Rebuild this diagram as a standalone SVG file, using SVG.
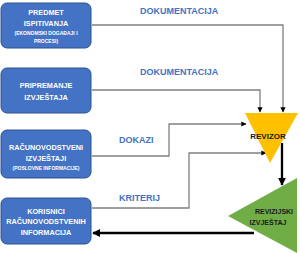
<svg xmlns="http://www.w3.org/2000/svg" width="300" height="253" viewBox="0 0 300 253">
<defs>
<style>
.box{fill:#4472C4;stroke:#2F528F;stroke-width:1}
.bt{font-family:"Liberation Sans",Arial,sans-serif;font-weight:bold;fill:#fff;text-anchor:middle;font-size:7.3px}
.bs{font-family:"Liberation Sans",Arial,sans-serif;font-weight:bold;fill:#fff;text-anchor:middle;font-size:5px}
.lbl{font-family:"Liberation Sans",Arial,sans-serif;font-weight:bold;fill:#4472C4;font-size:9px}
.con{fill:none;stroke:#808080;stroke-width:1.3}
.thick{fill:none;stroke:#000;stroke-width:2.3}
.dk{font-family:"Liberation Sans",Arial,sans-serif;font-weight:bold;fill:#1a1a1a;text-anchor:middle}
</style>
<marker id="ag" viewBox="0 0 10 10" refX="9" refY="5" markerWidth="4" markerHeight="4" orient="auto" markerUnits="strokeWidth"><path d="M0,0L10,5L0,10z" fill="#000"/></marker>
<marker id="ak" viewBox="0 0 10 10" refX="9" refY="5" markerWidth="3.5" markerHeight="3.5" orient="auto" markerUnits="strokeWidth"><path d="M0,0L10,5L0,10z" fill="#000"/></marker>
</defs>
<g id="connectors">
<polyline class="con" points="92,25 283,25 283,112" marker-end="url(#ag)"/>
<polyline class="con" points="92,90 260,90 260,112" marker-end="url(#ag)"/>
<polyline class="con" points="92,156 169,156 169,124 246,124" marker-end="url(#ag)"/>
<polyline class="con" points="92,208 189,208 189,153 266,153" marker-end="url(#ag)"/>
<line class="thick" x1="282" y1="143" x2="282" y2="185" marker-end="url(#ak)"/>
<line class="thick" x1="254" y1="233" x2="93" y2="233" marker-end="url(#ak)"/>
<text class="lbl" x="140" y="14">DOKUMENTACIJA</text>
<text class="lbl" x="140" y="75">DOKUMENTACIJA</text>
<text class="lbl" x="119" y="143">DOKAZI</text>
<text class="lbl" x="119" y="201">KRITERIJ</text>
</g>
<g id="n1">
<rect class="box" x="1" y="3" width="90" height="45" rx="6"/>
<text class="bt" x="46" y="15">PREDMET</text>
<text class="bt" x="46" y="26">ISPITIVANJA</text>
<text class="bs" x="46" y="35">(EKONOMSKI DOGAĐAJI I</text>
<text class="bs" x="46" y="43">PROCESI)</text>
</g>
<g id="n2">
<rect class="box" x="1" y="68" width="90" height="45" rx="6"/>
<text class="bt" x="46" y="88">PRIPREMANJE</text>
<text class="bt" x="46" y="100">IZVJEŠTAJA</text>
</g>
<g id="n3">
<rect class="box" x="1" y="130" width="90" height="48" rx="6"/>
<text class="bt" x="46" y="150">RAČUNOVODSTVENI</text>
<text class="bt" x="46" y="161">IZVJEŠTAJI</text>
<text class="bs" x="46" y="170">(POSLOVNE INFORMACIJE)</text>
</g>
<g id="n4">
<rect class="box" x="1" y="198" width="90" height="46" rx="6"/>
<text class="bt" x="46" y="214">KORISNICI</text>
<text class="bt" x="46" y="224">RAČUNOVODSTVENIH</text>
<text class="bt" x="46" y="235">INFORMACIJA</text>
</g>
<g id="revizor">
<polygon points="245,113 298,113 270,163" fill="#FFC000"/>
<text class="dk" x="268" y="139" font-size="8">REVIZOR</text>
</g>
<g id="izvjestaj">
<polygon points="297,178 297,253 228,216" fill="#70AD47"/>
<text class="dk" x="274" y="214" font-size="7">REVIZIJSKI</text>
<text class="dk" x="268" y="225" font-size="7">IZVJEŠTAJ</text>
</g>
</svg>
